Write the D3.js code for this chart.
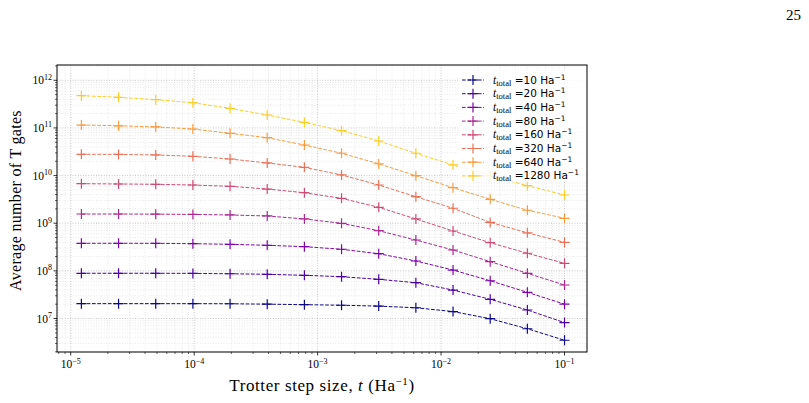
<!DOCTYPE html>
<html>
<head>
<meta charset="utf-8">
<script src="https://cdn.jsdelivr.net/npm/d3@7"></script>
<style>
  html, body { margin: 0; padding: 0; background: #fff; }
  svg { display: block; }
</style>
</head>
<body>
<svg id="chart" width="809" height="403"></svg>
<script>
// ---------- data ----------
const stepSizes = [1.220703125e-5, 2.44140625e-5, 4.8828125e-5, 9.765625e-5, 1.953125e-4,
  3.90625e-4, 7.8125e-4, 1.5625e-3, 3.125e-3, 6.25e-3, 1.25e-2, 2.5e-2, 5e-2, 1e-1];

const totalTimes = [10, 20, 40, 80, 160, 320, 640, 1280];

const tGates10   = [2.05e7, 2.05e7, 2.05e7, 2.05e7, 2.04e7, 2.0e7, 1.95e7, 1.9e7, 1.82e7, 1.68e7, 1.4e7, 9.9e6, 6.1e6, 3.5e6];
const tGates20   = [8.9e7, 8.9e7, 8.9e7, 8.85e7, 8.7e7, 8.47e7, 8.07e7, 7.54e7, 6.65e7, 5.64e7, 3.96e7, 2.53e7, 1.51e7, 8.2e6];
const tGates40   = [3.79e8, 3.79e8, 3.78e8, 3.72e8, 3.61e8, 3.44e8, 3.22e8, 2.84e8, 2.29e8, 1.61e8, 1.04e8, 6.2e7, 3.55e7, 2.0e7];
const tGates80   = [1.56e9, 1.56e9, 1.55e9, 1.53e9, 1.49e9, 1.42e9, 1.23e9, 9.96e8, 6.97e8, 4.44e8, 2.74e8, 1.56e8, 8.9e7, 5.05e7];
const tGates160  = [6.76e9, 6.66e9, 6.56e9, 6.34e9, 5.95e9, 5.22e9, 4.37e9, 3.33e9, 2.16e9, 1.23e9, 6.87e8, 3.9e8, 2.34e8, 1.44e8];
const tGates320  = [2.8e10, 2.78e10, 2.71e10, 2.54e10, 2.23e10, 1.84e10, 1.49e10, 1.03e10, 6.34e9, 3.6e9, 2.06e9, 1.04e9, 6.3e8, 3.97e8];
const tGates640  = [1.15e11, 1.11e11, 1.05e11, 9.5e10, 7.72e10, 6.24e10, 4.38e10, 2.94e10, 1.77e10, 9.94e9, 5.57e9, 3.18e9, 1.87e9, 1.27e9];
const tGates1280 = [4.75e11, 4.4e11, 3.92e11, 3.39e11, 2.58e11, 1.87e11, 1.31e11, 8.75e10, 5.32e10, 2.94e10, 1.67e10, 9.94e9, 6.14e9, 3.91e9];

const seriesValues = [tGates10, tGates20, tGates40, tGates80, tGates160, tGates320, tGates640, tGates1280];

const xTickExponents = [-5, -4, -3, -2, -1];
const yTickExponents = [7, 8, 9, 10, 11, 12];

const xLabel = "Trotter step size, ";
const yLabel = "Average number of T gates";
const pageNumber = "25";

// ---------- layout ----------
const svg = d3.select("#chart");
const plot = { left: 57, top: 65, right: 587, bottom: 352 };
const serif = "'Liberation Serif', 'DejaVu Serif', serif";
const sans = "'DejaVu Sans', sans-serif";

const x = d3.scaleLog().domain([Math.pow(10, -5.111), Math.pow(10, -0.818)]).range([plot.left, plot.right]);
const y = d3.scaleLog().domain([Math.pow(10, 6.297), Math.pow(10, 12.321)]).range([plot.bottom, plot.top]);

const colors = totalTimes.map((_, i) => d3.interpolatePlasma(0.9 * i / (totalTimes.length - 1)));

// page number
svg.append("text").attr("x", 801).attr("y", 20).attr("text-anchor", "end")
  .attr("font-family", serif).attr("font-size", 15).attr("fill", "#000").text(pageNumber);

// ---------- grid ----------
const xMinor = [], yMinor = [];
for (let e = -6; e <= 0; e++) for (let m = 2; m <= 9; m++) {
  const v = m * Math.pow(10, e);
  if (v >= x.domain()[0] && v <= x.domain()[1]) xMinor.push(v);
}
for (let e = 6; e <= 12; e++) for (let m = 2; m <= 9; m++) {
  const v = m * Math.pow(10, e);
  if (v >= y.domain()[0] && v <= y.domain()[1]) yMinor.push(v);
}
const xMajor = xTickExponents.map(e => Math.pow(10, e));
const yMajor = yTickExponents.map(e => Math.pow(10, e));

const grid = svg.append("g");
grid.selectAll(".gxm").data(xMinor).join("line")
  .attr("x1", d => x(d)).attr("x2", d => x(d)).attr("y1", plot.top).attr("y2", plot.bottom)
  .attr("stroke", "#d8d8d8").attr("stroke-width", 0.6).attr("stroke-dasharray", "1,1.6");
grid.selectAll(".gym").data(yMinor).join("line")
  .attr("y1", d => y(d)).attr("y2", d => y(d)).attr("x1", plot.left).attr("x2", plot.right)
  .attr("stroke", "#d8d8d8").attr("stroke-width", 0.6).attr("stroke-dasharray", "1,1.6");
grid.selectAll(".gxM").data(xMajor).join("line")
  .attr("x1", d => x(d)).attr("x2", d => x(d)).attr("y1", plot.top).attr("y2", plot.bottom)
  .attr("stroke", "#b8b8b8").attr("stroke-width", 0.8).attr("stroke-dasharray", "1,1.6");
grid.selectAll(".gyM").data(yMajor).join("line")
  .attr("y1", d => y(d)).attr("y2", d => y(d)).attr("x1", plot.left).attr("x2", plot.right)
  .attr("stroke", "#b8b8b8").attr("stroke-width", 0.8).attr("stroke-dasharray", "1,1.6");

// ---------- series ----------
const line = d3.line().x(d => x(d[0])).y(d => y(d[1]));
const plus = 5;
seriesValues.forEach((vals, i) => {
  const pts = stepSizes.map((s, j) => [s, vals[j]]);
  const g = svg.append("g");
  g.append("path").datum(pts).attr("d", line).attr("fill", "none")
    .attr("stroke", colors[i]).attr("stroke-width", 1).attr("stroke-dasharray", "3.7,1.6");
  g.selectAll("path.m").data(pts).join("path").attr("class", "m")
    .attr("d", d => `M${x(d[0]) - plus},${y(d[1])}H${x(d[0]) + plus}M${x(d[0])},${y(d[1]) - plus}V${y(d[1]) + plus}`)
    .attr("stroke", colors[i]).attr("stroke-width", 1.2).attr("fill", "none");
});

// ---------- frame & ticks ----------
svg.append("rect").attr("x", plot.left).attr("y", plot.top)
  .attr("width", plot.right - plot.left).attr("height", plot.bottom - plot.top)
  .attr("fill", "none").attr("stroke", "#000").attr("stroke-width", 1);

const ticks = svg.append("g").attr("stroke", "#000");
xMajor.forEach(v => ticks.append("line").attr("x1", x(v)).attr("x2", x(v)).attr("y1", plot.bottom).attr("y2", plot.bottom + 3.5).attr("stroke-width", 0.8));
xMinor.forEach(v => ticks.append("line").attr("x1", x(v)).attr("x2", x(v)).attr("y1", plot.bottom).attr("y2", plot.bottom + 2).attr("stroke-width", 0.6));
yMajor.forEach(v => ticks.append("line").attr("y1", y(v)).attr("y2", y(v)).attr("x1", plot.left).attr("x2", plot.left - 3.5).attr("stroke-width", 0.8));
yMinor.forEach(v => ticks.append("line").attr("y1", y(v)).attr("y2", y(v)).attr("x1", plot.left).attr("x2", plot.left - 2).attr("stroke-width", 0.6));

// tick labels
xTickExponents.forEach(e => {
  const t = svg.append("text").attr("x", x(Math.pow(10, e))).attr("y", plot.bottom + 16)
    .attr("text-anchor", "middle").attr("font-family", serif).attr("font-size", 11.5).attr("fill", "#000");
  t.append("tspan").text("10");
  t.append("tspan").attr("dy", -4.5).attr("font-size", 8).text("\u2212" + Math.abs(e));
});
yTickExponents.forEach(e => {
  const t = svg.append("text").attr("x", plot.left - 5).attr("y", y(Math.pow(10, e)) + 4)
    .attr("text-anchor", "end").attr("font-family", serif).attr("font-size", 11.5).attr("fill", "#000");
  t.append("tspan").text("10");
  t.append("tspan").attr("dy", -4.5).attr("font-size", 8).text(String(e));
});

// axis labels
const xl = svg.append("text").attr("x", (plot.left + plot.right) / 2).attr("y", 391)
  .attr("text-anchor", "middle").attr("font-family", serif).attr("font-size", 17)
  .attr("letter-spacing", 0.6).attr("fill", "#000");
xl.append("tspan").text(xLabel);
xl.append("tspan").attr("font-style", "italic").text("t");
xl.append("tspan").text(" (Ha");
xl.append("tspan").attr("dy", -6.5).attr("font-size", 11).text("\u22121");
xl.append("tspan").attr("dy", 6.5).text(")");

svg.append("text").attr("transform", `translate(21,${(plot.top + plot.bottom) / 2 - 8}) rotate(-90)`)
  .attr("text-anchor", "middle").attr("font-family", serif).attr("font-size", 16)
  .attr("letter-spacing", 0.3).attr("fill", "#000")
  .text(yLabel);

// ---------- legend ----------
const lg = svg.append("g");
lg.append("rect").attr("x", 458).attr("y", 70).attr("width", 128).attr("height", 112)
  .attr("rx", 2).attr("fill", "#fff").attr("fill-opacity", 0.8).attr("stroke", "none");
totalTimes.forEach((tt, i) => {
  const cy = 80 + i * 13.7;
  lg.append("line").attr("x1", 462).attr("x2", 484).attr("y1", cy).attr("y2", cy)
    .attr("stroke", colors[i]).attr("stroke-width", 1).attr("stroke-dasharray", "3.7,1.6");
  lg.append("path").attr("d", `M${473 - plus},${cy}H${473 + plus}M473,${cy - plus}V${cy + plus}`)
    .attr("stroke", colors[i]).attr("stroke-width", 1.2);
  const t = lg.append("text").attr("x", 493).attr("y", cy + 3.5).attr("font-size", 10.5).attr("fill", "#000");
  t.append("tspan").attr("font-family", serif).attr("font-style", "italic").attr("font-size", 11.5).text("t");
  t.append("tspan").attr("font-family", serif).attr("font-size", 8.5).attr("dy", 2).text("total");
  t.append("tspan").attr("font-family", sans).attr("dy", -2).text(" =" + tt + " Ha");
  t.append("tspan").attr("font-family", sans).attr("font-size", 7.5).attr("dy", -4).text("\u22121");
});
</script>
</body>
</html>
